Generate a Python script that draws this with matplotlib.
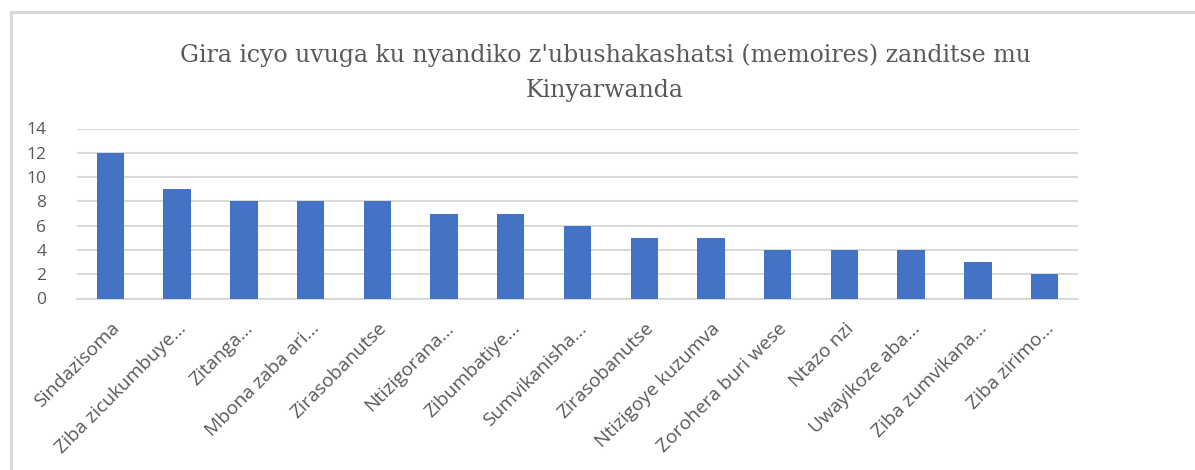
import matplotlib.pyplot as plt
from matplotlib.patches import Rectangle

categories = [
    "Sindazisoma", "Ziba zicukumbuye...", "Zitanga...", "Mbona zaba ari...",
    "Zirasobanutse", "Ntizigorana...", "Zibumbatiye...", "Sumvikanisha...",
    "Zirasobanutse", "Ntizigoye kuzumva", "Zorohera buri wese", "Ntazo nzi",
    "Uwayikoze aba...", "Ziba zumvikana...", "Ziba zirimo...",
]
values = [12, 9, 8, 8, 8, 7, 7, 6, 5, 5, 4, 4, 4, 3, 2]
yticks = [0, 2, 4, 6, 8, 10, 12, 14]

title = "Gira icyo uvuga ku nyandiko z'ubushakashatsi (memoires) zanditse mu\nKinyarwanda"

text_color = "#595959"
grid_color = "#d9d9d9"
bar_color = "#4472c4"

fig = plt.figure(figsize=(11.95, 4.7), dpi=100)

# outer chart frame (only top and left edges visible in the crop)
fig.patches.append(Rectangle((11 / 1195, -0.1), 1.2, 0.1 + 1 - 12 / 470,
                             transform=fig.transFigure, fill=False,
                             edgecolor=grid_color, linewidth=2.2))

ax = fig.add_axes([77 / 1195, 1 - 298.5 / 470, 1001 / 1195, 170 / 470])
x = range(len(categories))
ax.bar(x, values, width=0.41, color=bar_color, zorder=3)

ax.set_xlim(-0.5, len(categories) - 0.5)
ax.set_ylim(0, 14)
ax.set_yticks(yticks)
ax.set_yticklabels([str(v) for v in yticks], fontsize=12.5, color=text_color,
                   family="Open Sans")
ax.set_xticks(list(x))
ax.set_xticklabels(categories, rotation=45, ha="right", rotation_mode="anchor",
                   fontsize=13.8, color=text_color, family="Open Sans")
ax.tick_params(axis="both", length=0)
ax.tick_params(axis="y", pad=22)
ax.tick_params(axis="x", pad=15)
ax.grid(axis="y", color=grid_color, linewidth=1.5, zorder=0)
for s in ["top", "right", "left"]:
    ax.spines[s].set_visible(False)
ax.spines["bottom"].set_color(grid_color)
ax.spines["bottom"].set_linewidth(1.5)

fig.text(605 / 1195, 1 - 73 / 470, title, ha="center", va="center",
         fontsize=17, color=text_color, family="DejaVu Serif",
         linespacing=1.65)

fig.savefig("out.png", dpi=100)
